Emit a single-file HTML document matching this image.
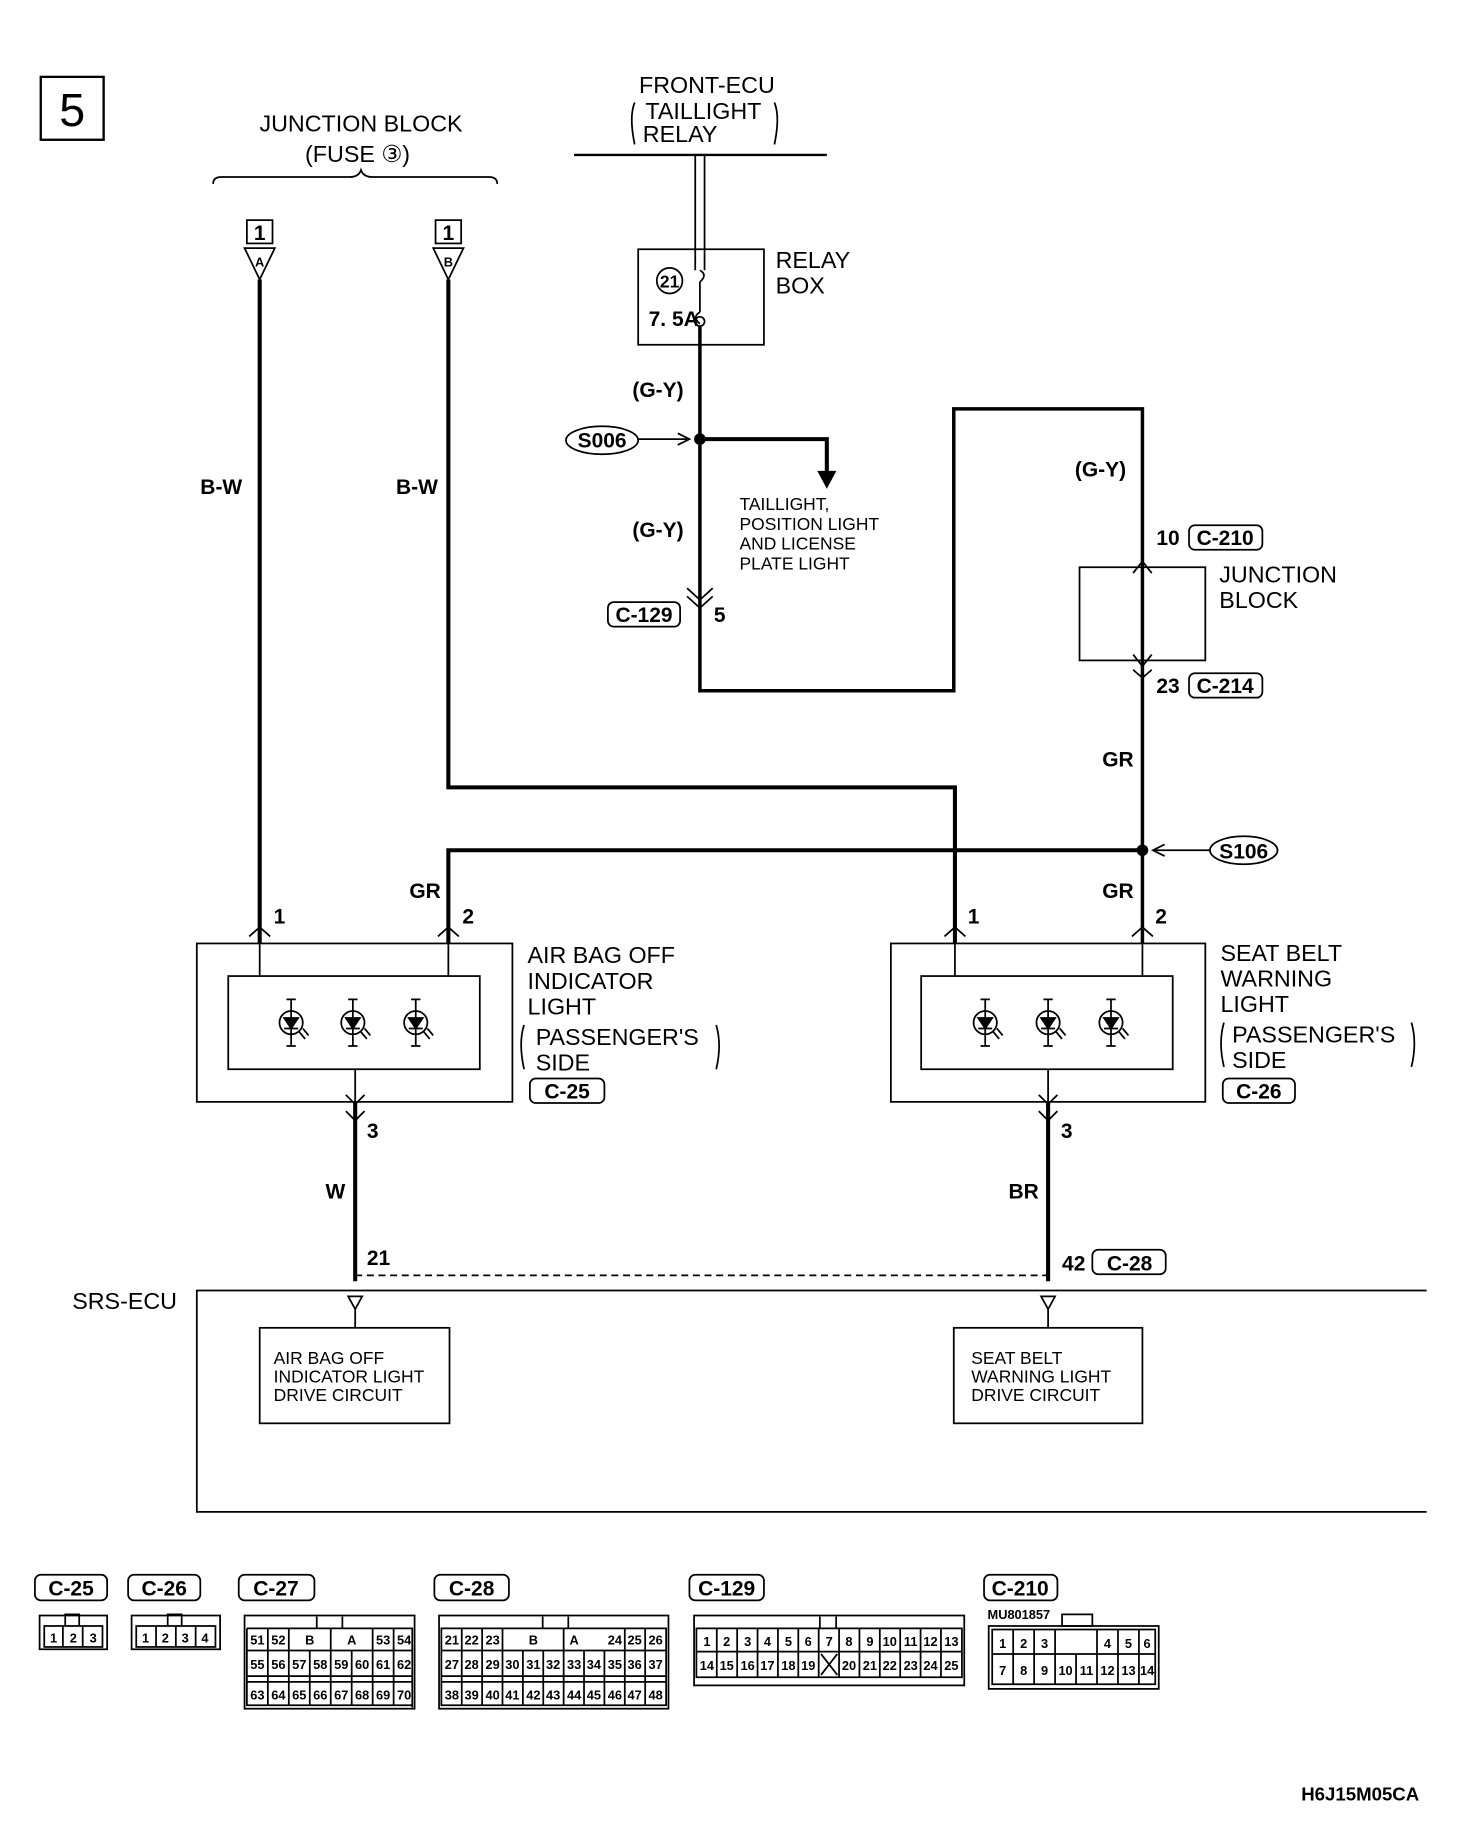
<!DOCTYPE html>
<html><head><meta charset="utf-8"><style>
html,body{margin:0;padding:0;background:#fff}
svg{display:block}
text{font-family:"Liberation Sans",sans-serif;fill:#000}
.t{font-size:20px}
.s{font-size:15px}
.b{font-size:18px;font-weight:bold;font-stretch:condensed}
.c{font-size:11px;font-weight:bold}
</style></head><body>
<svg width="1472" height="1824" viewBox="0 0 1264 1566" preserveAspectRatio="none" xmlns="http://www.w3.org/2000/svg">
<defs>
<g id="led" fill="none" stroke="#000" stroke-width="1.5"><line x1="0" y1="-20" x2="0" y2="20"/><circle cx="0" cy="0" r="10"/><path d="M-6 -4 L6 -4 L0 5 Z M-6 5 L6 5" fill="#000"/><path d="M-4 -20 L4 -20 M-4 20 L4 20 M7 8 L12 14 M10 5 L15 11"/></g>
</defs>
<g fill="none" stroke="#000" stroke-width="1.5">
<rect x="35" y="66" width="54" height="54" stroke-width="2"/>
<path d="M183 158 Q183 152 190 152 L300 152 Q308 152 310 146 Q312 152 320 152 L420 152 Q427 152 427 158"/>
<rect x="212" y="189" width="22" height="20"/><rect x="374" y="189" width="22" height="20"/>
<path d="M210 213 L236 213 L223 240 Z M372 213 L398 213 L385 240 Z"/>
<line x1="493" y1="133" x2="710" y2="133" stroke-width="2"/>
<path d="M545 88 Q540 100 545 124 M665 88 Q670 100 665 124"/>
<line x1="597" y1="133" x2="597" y2="232"/><line x1="605" y1="133" x2="605" y2="232"/>
<rect x="548" y="214" width="108" height="82"/>
<circle cx="575" cy="241" r="11"/>
<path d="M601 232 Q608 236 601 242 M601 268 Q594 272 601 278"/>
<circle cx="601" cy="276" r="4"/>
<line x1="601" y1="242" x2="601" y2="268"/>
<path d="M601 280 L601 593 L819 593 L819 351 L981 351 L981 810" stroke-width="3"/>
<path d="M590 505 L601 515 L612 505 M590 512 L601 522 L612 512"/>
<ellipse cx="517" cy="378" rx="31" ry="12"/>
<line x1="548" y1="377" x2="590" y2="377"/><path d="M582 372 L592 377 L582 382"/>
<path d="M601 377 L710 377 L710 410" stroke-width="3.5"/>
<path d="M703 405 L710 418 L717 405 Z" fill="#000"/>
<rect x="522" y="517" width="62" height="21" rx="5"/>
<rect x="1021" y="451" width="63" height="21" rx="5"/>
<rect x="1021" y="578" width="63" height="21" rx="5"/>
<rect x="927" y="487" width="108" height="80"/>
<path d="M973 492 L981 482 L989 492 M973 562 L981 572 L989 562 M973 575 L981 582 L989 575"/>
<ellipse cx="1068" cy="730" rx="29" ry="12"/>
<line x1="1039" y1="730" x2="992" y2="730"/><path d="M1000 725 L990 730 L1000 735"/>
<path d="M223 240 L223 810" stroke-width="3.5"/>
<path d="M385 240 L385 676 L820 676 L820 810" stroke-width="3.5"/>
<path d="M385 810 L385 730 L981 730" stroke-width="3.5"/>
<path d="M214 804 L223 796 L232 804 M376 804 L385 796 L394 804 M811 804 L820 796 L829 804 M972 804 L981 796 L990 804"/>
<rect x="169" y="810" width="271" height="136"/><rect x="196" y="838" width="216" height="80"/>
<rect x="765" y="810" width="270" height="136"/><rect x="791" y="838" width="216" height="80"/>
<path d="M223 810 L223 838 M385 810 L385 838 M820 810 L820 838 M981 810 L981 838"/>
<path d="M305 918 L305 946 M900 918 L900 946"/>
<path d="M297 940 L305 948 L313 940 M892 940 L900 948 L908 940 M297 954 L305 962 L313 954 M892 954 L900 962 L908 954"/>
<path d="M450 880 Q445 895 450 918 M615 880 Q620 897 615 918 M1051 878 Q1046 895 1051 916 M1212 878 Q1217 895 1212 916"/>
<rect x="455" y="926" width="64" height="21" rx="5"/><rect x="1050" y="926" width="62" height="21" rx="5"/>
<path d="M305 946 L305 1100 M900 946 L900 1100" stroke-width="3.5"/>
<line x1="305" y1="1095" x2="900" y2="1095" stroke-dasharray="6 4"/>
<rect x="938" y="1073" width="63" height="21" rx="5"/>
<path d="M1225 1108 L169 1108 L169 1298 L1225 1298"/>
<path d="M299 1113 L311 1113 L305 1124 Z M894 1113 L906 1113 L900 1124 Z"/>
<path d="M305 1124 L305 1140 M900 1124 L900 1140"/>
<rect x="223" y="1140" width="163" height="82"/><rect x="819" y="1140" width="162" height="82"/>
<rect x="30" y="1352" width="62" height="22" rx="5"/><rect x="110" y="1352" width="62" height="22" rx="5"/>
<rect x="205" y="1352" width="65" height="22" rx="5"/><rect x="373" y="1352" width="64" height="22" rx="5"/>
<rect x="592" y="1352" width="64" height="22" rx="5"/><rect x="845" y="1352" width="63" height="22" rx="5"/>
<rect x="34" y="1387" width="58" height="29"/><rect x="38" y="1396" width="50" height="18"/>
<path d="M54 1396 L54 1414 M71 1396 L71 1414 M56 1396 L56 1386 L68 1386 L68 1396"/>
<rect x="113" y="1387" width="76" height="29"/><rect x="117" y="1396" width="68" height="18"/>
<path d="M134 1396 L134 1414 M151 1396 L151 1414 M168 1396 L168 1414 M144 1396 L144 1386 L156 1386 L156 1396"/>
<rect x="210" y="1387" width="146" height="80"/>
<path d="M212 1398 L354 1398 L354 1466 M212 1398 L212 1464 L354 1464 M212 1417 L354 1417 M212 1439 L354 1439 M212 1444 L354 1444 M272 1388 L272 1398 M294 1388 L294 1398"/>
<path d="M230 1398V1464M248 1398V1464M266 1417V1464M284 1398V1464M302 1417V1464M320 1398V1464M338 1398V1464"/>
<rect x="377" y="1387" width="197" height="80"/>
<path d="M379 1398 L572 1398 L572 1464 L379 1464 Z M379 1417 L572 1417 M379 1439 L572 1439 M379 1444 L572 1444 M466 1388 L466 1398 M488 1388 L488 1398"/>
<path d="M396.5 1398V1464M414 1398V1464M431.5 1398V1464M449 1417V1464M466.5 1417V1464M484 1398V1464M501.5 1417V1464M519 1417V1464M536.5 1398V1464M554 1398V1464"/>
<rect x="596" y="1387" width="232" height="60"/>
<path d="M598 1398 L826 1398 L826 1440 L598 1440 Z M598 1418 L826 1418 M704 1388 L704 1398 M718 1388 L718 1398"/>
<path d="M615.5 1398V1440M633 1398V1440M650.5 1398V1440M668 1398V1440M685.5 1398V1440M703 1398V1440M720.5 1398V1440M738 1398V1440M755.5 1398V1440M773 1398V1440M790.5 1398V1440M808 1398V1440"/>
<path d="M705 1420 L719 1438 M719 1420 L705 1438"/>
<rect x="849" y="1396" width="146" height="54"/>
<path d="M852 1399 L992 1399 L992 1446 L852 1446 Z M852 1420 L992 1420 M912 1386 L912 1396 L938 1396 L938 1386 Z"/>
<path d="M870 1399V1446M888 1399V1446M906 1399V1420M906 1420V1446M924 1420V1446M942 1399V1446M960 1399V1446M978 1399V1446"/>
</g>
<circle cx="601" cy="377" r="5"/><circle cx="981" cy="730" r="5"/>
<use href="#led" x="250" y="878"/><use href="#led" x="303" y="878"/><use href="#led" x="357" y="878"/>
<use href="#led" x="846" y="878"/><use href="#led" x="900" y="878"/><use href="#led" x="954" y="878"/>
<text x="62" y="108" font-size="40" text-anchor="middle">5</text>
<text class="t" x="310" y="113" text-anchor="middle">JUNCTION BLOCK</text>
<text class="t" x="307" y="139" text-anchor="middle">(FUSE ③)</text>
<text class="b" x="223" y="206" text-anchor="middle">1</text><text class="b" x="385" y="206" text-anchor="middle">1</text>
<text class="c" x="223" y="229" text-anchor="middle">A</text><text class="c" x="385" y="229" text-anchor="middle">B</text>
<text class="b" x="190" y="424" text-anchor="middle">B-W</text><text class="b" x="358" y="424" text-anchor="middle">B-W</text>
<text class="t" x="607" y="80" text-anchor="middle">FRONT-ECU</text>
<text class="t" x="604" y="102" text-anchor="middle">TAILLIGHT</text>
<text class="t" x="584" y="122" text-anchor="middle">RELAY</text>
<text class="s" x="575" y="247" text-anchor="middle" font-weight="bold">21</text>
<text class="b" x="557" y="280" font-size="15">7. 5A</text>
<text class="t" x="666" y="230">RELAY</text><text class="t" x="666" y="252">BOX</text>
<text class="b" x="565" y="341" text-anchor="middle">(G-Y)</text>
<text class="b" x="517" y="384" text-anchor="middle">S006</text>
<text class="s" x="635" y="438">TAILLIGHT,</text><text class="s" x="635" y="455">POSITION LIGHT</text>
<text class="s" x="635" y="472">AND LICENSE</text><text class="s" x="635" y="489">PLATE LIGHT</text>
<text class="b" x="565" y="461" text-anchor="middle">(G-Y)</text>
<text class="b" x="553" y="534" text-anchor="middle">C-129</text><text class="b" x="618" y="534" text-anchor="middle">5</text>
<text class="b" x="945" y="409" text-anchor="middle">(G-Y)</text>
<text class="b" x="1003" y="468" text-anchor="middle">10</text><text class="b" x="1052" y="468" text-anchor="middle">C-210</text>
<text class="t" x="1047" y="500">JUNCTION</text><text class="t" x="1047" y="522">BLOCK</text>
<text class="b" x="1003" y="595" text-anchor="middle">23</text><text class="b" x="1052" y="595" text-anchor="middle">C-214</text>
<text class="b" x="960" y="658" text-anchor="middle">GR</text>
<text class="b" x="1068" y="737" text-anchor="middle">S106</text>
<text class="b" x="365" y="771" text-anchor="middle">GR</text><text class="b" x="960" y="771" text-anchor="middle">GR</text>
<text class="b" x="240" y="793" text-anchor="middle">1</text><text class="b" x="402" y="793" text-anchor="middle">2</text>
<text class="b" x="836" y="793" text-anchor="middle">1</text><text class="b" x="997" y="793" text-anchor="middle">2</text>
<text class="t" x="453" y="827">AIR BAG OFF</text><text class="t" x="453" y="849">INDICATOR</text><text class="t" x="453" y="871">LIGHT</text>
<text class="t" x="460" y="897">PASSENGER'S</text><text class="t" x="460" y="919">SIDE</text>
<text class="b" x="487" y="943" text-anchor="middle">C-25</text>
<text class="t" x="1048" y="825">SEAT BELT</text><text class="t" x="1048" y="847">WARNING</text><text class="t" x="1048" y="869">LIGHT</text>
<text class="t" x="1058" y="895">PASSENGER'S</text><text class="t" x="1058" y="917">SIDE</text>
<text class="b" x="1081" y="943" text-anchor="middle">C-26</text>
<text class="b" x="320" y="977" text-anchor="middle">3</text><text class="b" x="916" y="977" text-anchor="middle">3</text>
<text class="b" x="288" y="1029" text-anchor="middle">W</text><text class="b" x="879" y="1029" text-anchor="middle">BR</text>
<text class="b" x="325" y="1086" text-anchor="middle">21</text>
<text class="b" x="922" y="1091" text-anchor="middle">42</text><text class="b" x="970" y="1091" text-anchor="middle">C-28</text>
<text class="t" x="62" y="1124" font-size="19">SRS-ECU</text>
<text class="s" x="235" y="1171">AIR BAG OFF</text><text class="s" x="235" y="1187">INDICATOR LIGHT</text><text class="s" x="235" y="1203">DRIVE CIRCUIT</text>
<text class="s" x="834" y="1171">SEAT BELT</text><text class="s" x="834" y="1187">WARNING LIGHT</text><text class="s" x="834" y="1203">DRIVE CIRCUIT</text>
<text class="b" x="61" y="1370" text-anchor="middle">C-25</text><text class="b" x="141" y="1370" text-anchor="middle">C-26</text>
<text class="b" x="237" y="1370" text-anchor="middle">C-27</text><text class="b" x="405" y="1370" text-anchor="middle">C-28</text>
<text class="b" x="624" y="1370" text-anchor="middle">C-129</text><text class="b" x="876" y="1370" text-anchor="middle">C-210</text>
<g class="c" text-anchor="middle">
<text x="46" y="1410">1</text><text x="63" y="1410">2</text><text x="80" y="1410">3</text>
<text x="125" y="1410">1</text><text x="142" y="1410">2</text><text x="159" y="1410">3</text><text x="176" y="1410">4</text>
<text x="221" y="1412">51</text><text x="239" y="1412">52</text><text x="266" y="1412">B</text><text x="302" y="1412">A</text><text x="329" y="1412">53</text><text x="347" y="1412">54</text>
<text x="221" y="1433">55</text><text x="239" y="1433">56</text><text x="257" y="1433">57</text><text x="275" y="1433">58</text><text x="293" y="1433">59</text><text x="311" y="1433">60</text><text x="329" y="1433">61</text><text x="347" y="1433">62</text>
<text x="221" y="1459">63</text><text x="239" y="1459">64</text><text x="257" y="1459">65</text><text x="275" y="1459">66</text><text x="293" y="1459">67</text><text x="311" y="1459">68</text><text x="329" y="1459">69</text><text x="347" y="1459">70</text>
<text x="388" y="1412">21</text><text x="405" y="1412">22</text><text x="423" y="1412">23</text><text x="458" y="1412">B</text><text x="493" y="1412">A</text><text x="528" y="1412">24</text><text x="545" y="1412">25</text><text x="563" y="1412">26</text>
<text x="388" y="1433">27</text><text x="405" y="1433">28</text><text x="423" y="1433">29</text><text x="440" y="1433">30</text><text x="458" y="1433">31</text><text x="475" y="1433">32</text><text x="493" y="1433">33</text><text x="510" y="1433">34</text><text x="528" y="1433">35</text><text x="545" y="1433">36</text><text x="563" y="1433">37</text>
<text x="388" y="1459">38</text><text x="405" y="1459">39</text><text x="423" y="1459">40</text><text x="440" y="1459">41</text><text x="458" y="1459">42</text><text x="475" y="1459">43</text><text x="493" y="1459">44</text><text x="510" y="1459">45</text><text x="528" y="1459">46</text><text x="545" y="1459">47</text><text x="563" y="1459">48</text>
<text x="607" y="1413">1</text><text x="624" y="1413">2</text><text x="642" y="1413">3</text><text x="659" y="1413">4</text><text x="677" y="1413">5</text><text x="694" y="1413">6</text><text x="712" y="1413">7</text><text x="729" y="1413">8</text><text x="747" y="1413">9</text><text x="764" y="1413">10</text><text x="782" y="1413">11</text><text x="799" y="1413">12</text><text x="817" y="1413">13</text>
<text x="607" y="1434">14</text><text x="624" y="1434">15</text><text x="642" y="1434">16</text><text x="659" y="1434">17</text><text x="677" y="1434">18</text><text x="694" y="1434">19</text><text x="729" y="1434">20</text><text x="747" y="1434">21</text><text x="764" y="1434">22</text><text x="782" y="1434">23</text><text x="799" y="1434">24</text><text x="817" y="1434">25</text>
<text x="861" y="1415">1</text><text x="879" y="1415">2</text><text x="897" y="1415">3</text><text x="951" y="1415">4</text><text x="969" y="1415">5</text><text x="985" y="1415">6</text>
<text x="861" y="1438">7</text><text x="879" y="1438">8</text><text x="897" y="1438">9</text><text x="915" y="1438">10</text><text x="933" y="1438">11</text><text x="951" y="1438">12</text><text x="969" y="1438">13</text><text x="985" y="1438">14</text>
</g>
<text x="848" y="1390" font-size="11" font-weight="bold">MU801857</text>
<text x="1168" y="1546" font-size="16" font-weight="bold" text-anchor="middle">H6J15M05CA</text>
</svg>
</body></html>
